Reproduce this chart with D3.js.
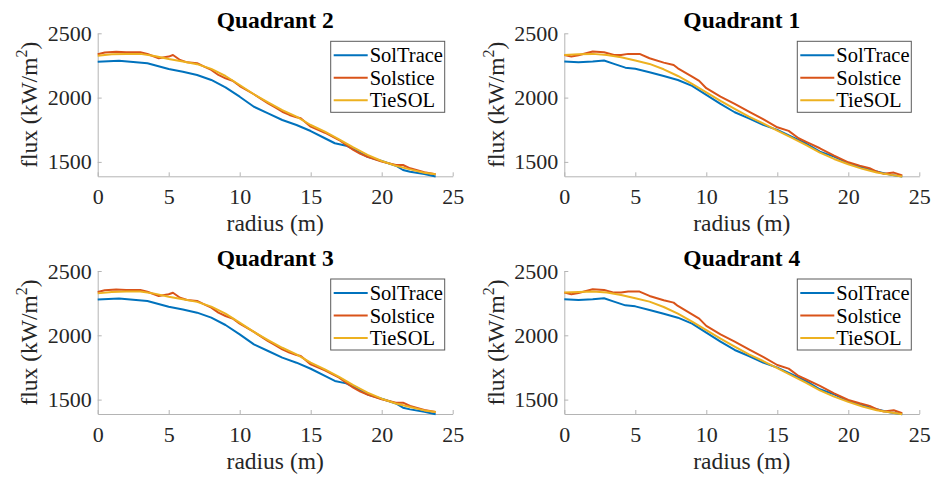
<!DOCTYPE html>
<html><head><meta charset="utf-8">
<script src="https://cdn.jsdelivr.net/npm/d3@7"></script>
<style>
html,body{margin:0;padding:0;background:#fff;}
svg{display:block;}
</style></head>
<body><svg id="c" width="931" height="477"></svg>
<script>
// ---- data ----
const seriesNames = ["SolTrace", "Solstice", "TieSOL"];
const seriesColors = ["#0072BD", "#D95319", "#EDB120"];
const xTicks = [0, 5, 10, 15, 20, 25];
const yTicks = [1500, 2000, 2500];
const panelTitles = ["Quadrant 2", "Quadrant 1", "Quadrant 3", "Quadrant 4"];

// Quadrant 2
const q2SolTraceR = [0,1.5,3.5,5,6,7,8,9,10,11,12,13,14,15,16,16.7,17.5,18,19,20,21,21.5,22,23,23.8];
const q2SolTraceV = [2279,2287,2267,2222,2201,2176,2137,2080,2007,1929,1878,1826,1787,1740,1684,1645,1626,1600,1540,1507,1470,1437,1424,1406,1386];
const q2SolsticeR = [0,0.5,1.3,2,3,3.5,4.3,5,5.3,5.8,6.3,7,7.5,8,8.5,9,9.5,10,11,12,12.5,13,13.5,14,14.3,15,16,17,17.5,18,18.5,19,20,21,21.5,22,23,23.8];
const q2SolsticeV = [2337,2350,2357,2352,2352,2339,2306,2319,2331,2292,2274,2267,2241,2215,2176,2150,2131,2090,2026,1955,1924,1890,1865,1847,1839,1774,1727,1670,1632,1593,1562,1540,1502,1476,1476,1450,1419,1404];
const q2TieSOLR = [0,1,2,3,4,5,6,7,8,9,10,11,12,13,14,15,16,17,18,19,20,21,22,23,23.8];
const q2TieSOLV = [2326,2337,2340,2340,2324,2300,2280,2260,2223,2168,2098,2026,1963,1903,1852,1787,1735,1676,1613,1554,1507,1470,1442,1416,1404];

// Quadrant 1
const q1SolTraceR = [0,1,2,2.8,3.5,4.3,5,6,7,8,9,10,11,12,13,14,15,16,17,18,19,20,21,21.7,22.5,23,23.8];
const q1SolTraceV = [2280,2275,2280,2288,2262,2233,2225,2197,2168,2137,2091,2021,1951,1886,1839,1788,1749,1697,1645,1580,1541,1490,1456,1433,1412,1399,1386];
const q1SolsticeR = [0,0.5,1,2,2.8,3.5,4,4.5,5.3,6,7,7.7,8,9,9.5,10,11,12,13,14,15,15.8,16.5,17,18,19,20,20.8,21.5,22,22.5,23.2,23.8];
const q1SolsticeV = [2332,2319,2329,2358,2352,2332,2332,2340,2340,2306,2272,2254,2228,2163,2130,2073,2008,1951,1891,1832,1769,1741,1684,1658,1606,1549,1497,1471,1451,1425,1407,1417,1394];
const q1TieSOLR = [0,1,2,3,4,5,6,7,8,9,10,11,12,13,14,15,16,17,18,19,20,21,22,23,23.8];
const q1TieSOLV = [2332,2337,2340,2332,2313,2288,2262,2220,2168,2106,2041,1974,1912,1852,1800,1744,1689,1632,1572,1523,1482,1446,1417,1399,1386];

// Quadrant 3
const q3SolTraceR = [0,1.5,3.5,5,6,7,8,9,10,11,12,13,14,15,16,16.7,17.5,18,19,20,21,21.5,22,23,23.8];
const q3SolTraceV = [2279,2287,2267,2222,2201,2176,2137,2080,2007,1929,1878,1826,1787,1740,1684,1645,1626,1600,1540,1507,1470,1437,1424,1406,1386];
const q3SolsticeR = [0,0.5,1.3,2,3,3.5,4.3,5,5.3,5.8,6.3,7,7.5,8,8.5,9,9.5,10,11,12,12.5,13,13.5,14,14.3,15,16,17,17.5,18,18.5,19,20,21,21.5,22,23,23.8];
const q3SolsticeV = [2337,2350,2357,2352,2352,2339,2306,2319,2331,2292,2274,2267,2241,2215,2176,2150,2131,2090,2026,1955,1924,1890,1865,1847,1839,1774,1727,1670,1632,1593,1562,1540,1502,1476,1476,1450,1419,1404];
const q3TieSOLR = [0,1,2,3,4,5,6,7,8,9,10,11,12,13,14,15,16,17,18,19,20,21,22,23,23.8];
const q3TieSOLV = [2326,2337,2340,2340,2324,2300,2280,2260,2223,2168,2098,2026,1963,1903,1852,1787,1735,1676,1613,1554,1507,1470,1442,1416,1404];

// Quadrant 4
const q4SolTraceR = [0,1,2,2.8,3.5,4.3,5,6,7,8,9,10,11,12,13,14,15,16,17,18,19,20,21,21.7,22.5,23,23.8];
const q4SolTraceV = [2280,2275,2280,2288,2262,2233,2225,2197,2168,2137,2091,2021,1951,1886,1839,1788,1749,1697,1645,1580,1541,1490,1456,1433,1412,1399,1386];
const q4SolsticeR = [0,0.5,1,2,2.8,3.5,4,4.5,5.3,6,7,7.7,8,9,9.5,10,11,12,13,14,15,15.8,16.5,17,18,19,20,20.8,21.5,22,22.5,23.2,23.8];
const q4SolsticeV = [2332,2319,2329,2358,2352,2332,2332,2340,2340,2306,2272,2254,2228,2163,2130,2073,2008,1951,1891,1832,1769,1741,1684,1658,1606,1549,1497,1471,1451,1425,1407,1417,1394];
const q4TieSOLR = [0,1,2,3,4,5,6,7,8,9,10,11,12,13,14,15,16,17,18,19,20,21,22,23,23.8];
const q4TieSOLV = [2332,2337,2340,2332,2313,2288,2262,2220,2168,2106,2041,1974,1912,1852,1800,1744,1689,1632,1572,1523,1482,1446,1417,1399,1386];

const panelData = [
  [[q2SolTraceR,q2SolTraceV],[q2SolsticeR,q2SolsticeV],[q2TieSOLR,q2TieSOLV]],
  [[q1SolTraceR,q1SolTraceV],[q1SolsticeR,q1SolsticeV],[q1TieSOLR,q1TieSOLV]],
  [[q3SolTraceR,q3SolTraceV],[q3SolsticeR,q3SolsticeV],[q3TieSOLR,q3TieSOLV]],
  [[q4SolTraceR,q4SolTraceV],[q4SolsticeR,q4SolsticeV],[q4TieSOLR,q4TieSOLV]]
];

// ---- layout ----
const FAM = "Liberation Serif";
const svg = d3.select("#c");
const lefts = [97.7, 564.3];
const tops = [33.3, 271];
const W = 355, H = 143;
const yMin = 1388, yMax = 2500;

function serif(sel, size) {
  return sel.attr("font-family", FAM).style("font-family", FAM).attr("font-size", size);
}

panelData.forEach((series, i) => {
  const px = lefts[i % 2], py = tops[Math.floor(i / 2)];
  const g = svg.append("g").attr("transform", `translate(${px},${py})`);
  const x = d3.scaleLinear().domain([0, 25]).range([0, W]);
  const y = d3.scaleLinear().domain([yMin, yMax]).range([H, 0]);

  // axes
  const xa = g.append("g").attr("transform", `translate(0,${H})`)
    .call(d3.axisBottom(x).tickValues(xTicks).tickFormat(d3.format("d")).tickSizeInner(-4).tickSizeOuter(0).tickPadding(12));
  const ya = g.append("g")
    .call(d3.axisLeft(y).tickValues(yTicks).tickFormat(d3.format("d")).tickSizeInner(-4).tickSizeOuter(0).tickPadding(6));
  [xa, ya].forEach(a => {
    serif(a, 22);
    a.select(".domain").attr("stroke", "#b4b4b4").attr("stroke-width", 1);
    a.selectAll(".tick line").attr("stroke", "#b4b4b4");
    serif(a.selectAll("text"), 22).attr("fill", "#262626");
  });

  // lines
  const line = d3.line().x(d => x(d[0])).y(d => y(d[1]));
  series.forEach((s, k) => {
    const pts = s[0].map((r, j) => [r, s[1][j]]);
    g.append("path").datum(pts).attr("d", line)
      .attr("fill", "none").attr("stroke", seriesColors[k]).attr("stroke-width", 2)
      .attr("stroke-linejoin", "round");
  });

  // title
  serif(g.append("text"), 23.5).attr("x", W / 2).attr("y", -5.5).attr("text-anchor", "middle")
    .attr("font-weight", "bold").attr("fill", "#000").text(panelTitles[i]);
  // x label
  serif(g.append("text"), 23.5).attr("x", W / 2).attr("y", H + 55).attr("text-anchor", "middle")
    .attr("fill", "#262626").text("radius (m)");
  // y label
  const yl = serif(g.append("text"), 23.5).attr("transform", `translate(-60.5,${H / 2}) rotate(-90)`)
    .attr("text-anchor", "middle").attr("fill", "#262626");
  yl.append("tspan").text("flux (kW/m");
  yl.append("tspan").attr("font-size", 16).attr("dy", -10).text("2");
  yl.append("tspan").attr("dy", 10).text(")");

  // legend
  const lw = 114, lh = 71;
  const lx = W - 8 - lw, ly = 8;
  const lg = g.append("g").attr("transform", `translate(${lx},${ly})`);
  lg.append("rect").attr("width", lw).attr("height", lh).attr("fill", "#fff")
    .attr("stroke", "#5a5a5a").attr("stroke-width", 1);
  seriesNames.forEach((n, k) => {
    const cy = 14 + k * 22.5;
    lg.append("line").attr("x1", 3).attr("x2", 37).attr("y1", cy).attr("y2", cy)
      .attr("stroke", seriesColors[k]).attr("stroke-width", 2);
    serif(lg.append("text"), 20.5).attr("x", 39).attr("y", cy + 7)
      .attr("fill", "#000").text(n);
  });
});
</script></body></html>
